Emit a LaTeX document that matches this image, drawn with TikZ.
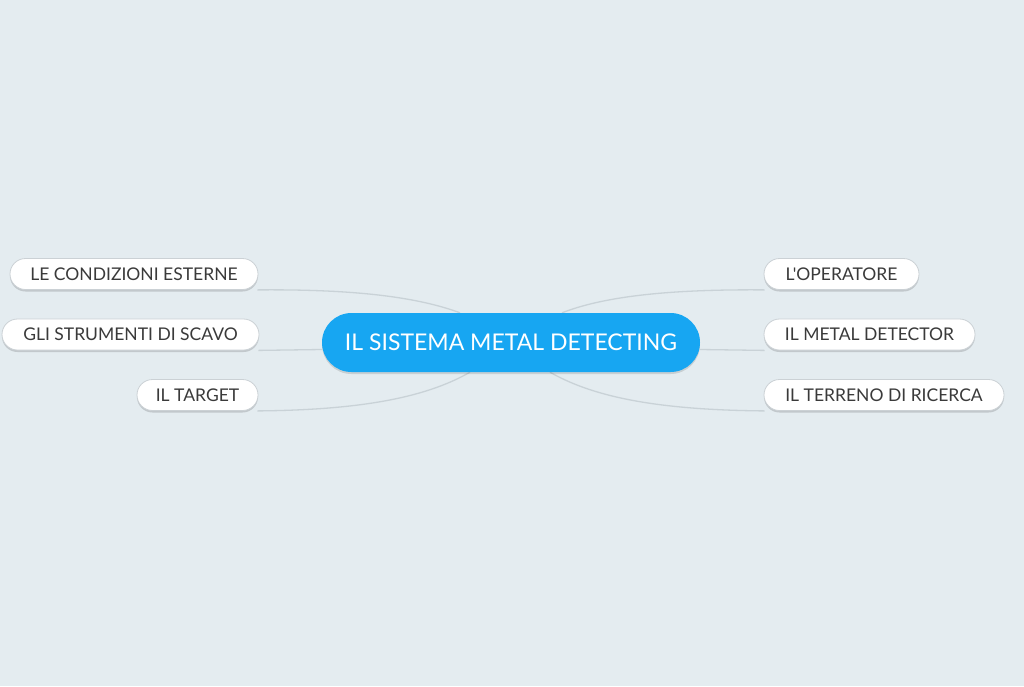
\documentclass[tikz,border=0pt]{standalone}
\usepackage{fontspec}
\setmainfont{Lato}[Ligatures=TeXOff]
\usetikzlibrary{shadows,backgrounds}
\definecolor{bg}{HTML}{E4ECF0}
\definecolor{hub}{HTML}{17A6F2}
\definecolor{link}{HTML}{C9D2D7}
\definecolor{txt}{HTML}{3A3A3A}
\definecolor{rim}{HTML}{CBD1D5}
\tikzset{
  child/.style={draw=rim, line width=0.8pt, fill=white, rounded corners=15.5pt,
    minimum height=31pt, inner xsep=0pt, font=\fontsize{17.5}{20}\selectfont, text=txt,
    drop shadow={shadow xshift=0pt, shadow yshift=-2pt, opacity=0.15, fill=black}},
  hubnode/.style={fill=hub, rounded corners=29.5pt, minimum height=59pt, minimum width=378pt,
    font=\fontsize{23}{26}\selectfont, text=white,
    drop shadow={shadow xshift=0pt, shadow yshift=-2pt, opacity=0.12, fill=black}},
  linkline/.style={draw=link, line width=1.3pt}
}
\begin{document}
\begin{tikzpicture}[x=1pt,y=-1pt]
\useasboundingbox (0,0) rectangle (1024,686);
\node[hubnode] (hub) at (511,342.5) {IL SISTEMA METAL DETECTING};
\node[child, minimum width=248pt] (lc) at (134,274) {LE CONDIZIONI ESTERNE};
\node[child, minimum width=257pt] (ls) at (130.5,334.5) {GLI STRUMENTI DI SCAVO};
\node[child, minimum width=121pt] (lt) at (197.5,395) {IL TARGET};
\node[child, minimum width=155pt] (ro) at (841.5,274) {L'OPERATORE};
\node[child, minimum width=211pt] (rm) at (869.5,334.5) {IL METAL DETECTOR};
\node[child, minimum width=240pt] (rt) at (884,395) {IL TERRENO DI RICERCA};
\coordinate (ht1) at ([xshift=-51pt]hub.north);
\coordinate (hb1) at ([xshift=-41pt]hub.south);
\coordinate (ht2) at ([xshift=51pt]hub.north);
\coordinate (hb2) at ([xshift=39pt]hub.south);
\begin{scope}[on background layer]
\fill[bg] (0,0) rectangle (1024,686);
\draw[linkline] ([xshift=-1pt]lc.south east) .. controls (360,289) and (420,298) .. (ht1);
\draw[linkline] ([xshift=-1pt]ls.south east) -- ([yshift=-7pt]hub.west);
\draw[linkline] ([xshift=-1pt]lt.south east) .. controls (370,410) and (430,395) .. (hb1);
\draw[linkline] (ht2) .. controls (600,298) and (660,289) .. ([xshift=1pt]ro.south west);
\draw[linkline] ([yshift=-7pt]hub.east) -- ([xshift=1pt]rm.south west);
\draw[linkline] (hb2) .. controls (590,395) and (650,410) .. ([xshift=1pt]rt.south west);
\end{scope}
\end{tikzpicture}
\end{document}
